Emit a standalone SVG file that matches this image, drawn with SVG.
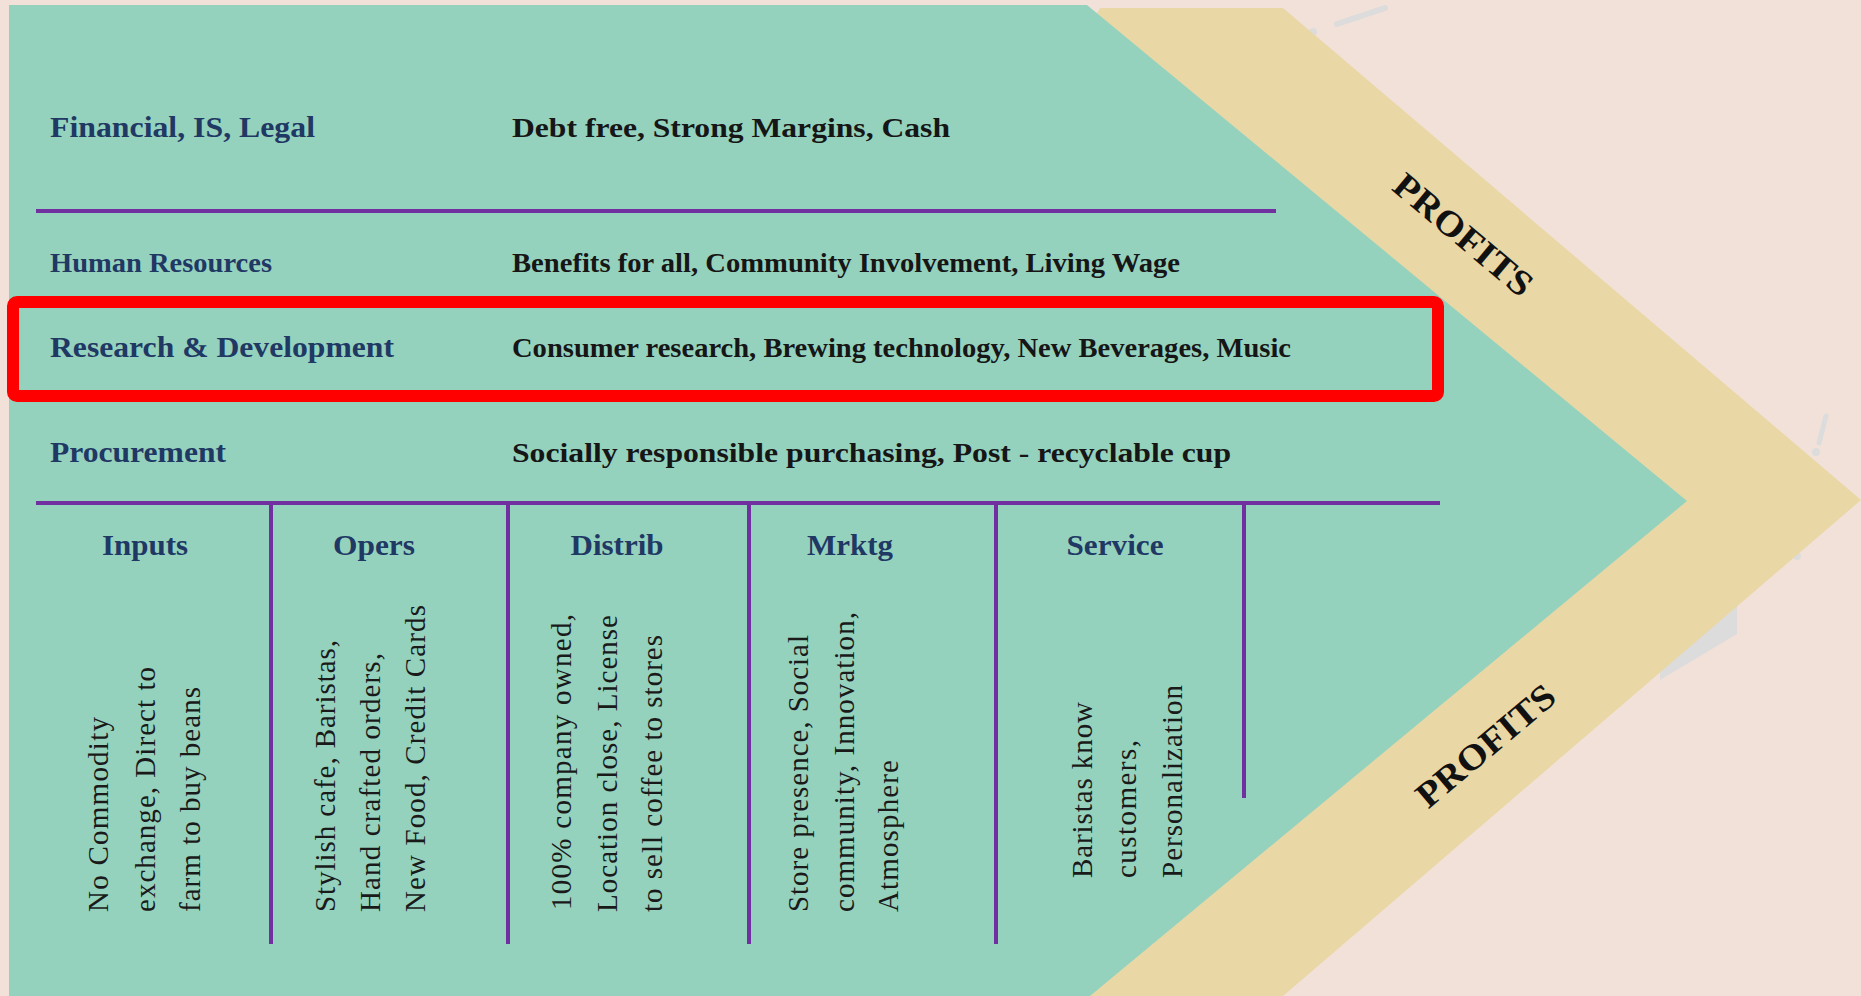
<svg xmlns="http://www.w3.org/2000/svg" width="1861" height="996" viewBox="0 0 1861 996">
<style>
.lbl{font-family:"Liberation Serif","Times New Roman",serif;font-weight:bold;fill:#1F3864;}
.desc{font-family:"Liberation Serif","Times New Roman",serif;font-weight:bold;fill:#161616;}
.rot{font-family:"Liberation Serif","Times New Roman",serif;font-size:29px;fill:#1a1a1a;}
.hdr{font-family:"Liberation Serif","Times New Roman",serif;font-weight:bold;font-size:30px;fill:#1F3864;text-anchor:middle;}
.prof{font-family:"Liberation Serif","Times New Roman",serif;font-weight:bold;font-size:36px;fill:#111;text-anchor:middle;}
.div{stroke:#7030A0;stroke-width:4;fill:none;}
.smudge{fill:#dcdcdc;}
</style>
<rect id="background" x="0" y="0" width="1861" height="996" fill="#F2E1D9"/>
<g id="smudges">
<line x1="1337" y1="24" x2="1385" y2="8" stroke="#dcdcdc" stroke-width="6" stroke-linecap="round"/>
<circle class="smudge" cx="1313" cy="32" r="4"/>
<line x1="1826" y1="416" x2="1819" y2="443" stroke="#dcdcdc" stroke-width="5" stroke-linecap="round"/>
<circle class="smudge" cx="1816" cy="452" r="4"/>
<polygon class="smudge" points="1737,605 1737,634 1660,680 1660,670"/>
<circle class="smudge" cx="1797" cy="556" r="4"/>
</g>
<g id="profit-band">
<polygon points="1100,8 1283,8 1861,500 1283,996 1000,996 1000,200" fill="#E9D7A5"/>
<text class="prof" transform="translate(1464,234) rotate(40)" y="13" textLength="170" lengthAdjust="spacingAndGlyphs">PROFITS</text>
<text class="prof" transform="translate(1485,745) rotate(-40)" y="13" textLength="170" lengthAdjust="spacingAndGlyphs">PROFITS</text>
</g>
<polygon id="value-chain" points="9,5 1087,5 1687,501 1090,996 9,996" fill="#95D2BE"/>
<g id="dividers">
<line class="div" x1="36" y1="211" x2="1276" y2="211"/>
<line class="div" x1="36" y1="503" x2="1440" y2="503"/>
<line class="div" x1="271" y1="503" x2="271" y2="944"/>
<line class="div" x1="508" y1="503" x2="508" y2="944"/>
<line class="div" x1="749" y1="503" x2="749" y2="944"/>
<line class="div" x1="996" y1="503" x2="996" y2="944"/>
<line class="div" x1="1244" y1="503" x2="1244" y2="798"/>
</g>
<g id="row-financial">
<text class="lbl" x="50" y="137" font-size="30" textLength="265" lengthAdjust="spacingAndGlyphs">Financial, IS, Legal</text>
<text class="desc" x="512" y="137" font-size="28" textLength="438" lengthAdjust="spacingAndGlyphs">Debt free, Strong Margins, Cash</text>
</g>
<g id="row-hr">
<text class="lbl" x="50" y="272" font-size="27" textLength="222" lengthAdjust="spacingAndGlyphs">Human Resources</text>
<text class="desc" x="512" y="272" font-size="27" textLength="668" lengthAdjust="spacingAndGlyphs">Benefits for all, Community Involvement, Living Wage</text>
</g>
<g id="row-rd">
<rect x="13" y="302" width="1425" height="94" rx="4" fill="none" stroke="#FF0000" stroke-width="12"/>
<text class="lbl" x="50" y="357" font-size="30" textLength="344" lengthAdjust="spacingAndGlyphs">Research &amp; Development</text>
<text class="desc" x="512" y="357" font-size="28" textLength="779" lengthAdjust="spacingAndGlyphs">Consumer research, Brewing technology, New Beverages, Music</text>
</g>
<g id="row-procurement">
<text class="lbl" x="50" y="462" font-size="30" textLength="176" lengthAdjust="spacingAndGlyphs">Procurement</text>
<text class="desc" x="512" y="462" font-size="28" textLength="719" lengthAdjust="spacingAndGlyphs">Socially responsible purchasing, Post - recyclable cup</text>
</g>
<g id="col-inputs">
<text class="hdr" x="145" y="555" textLength="86" lengthAdjust="spacingAndGlyphs">Inputs</text>
<text class="rot" transform="translate(108,912) rotate(-90)" textLength="195" lengthAdjust="spacing">No Commodity</text>
<text class="rot" transform="translate(155,912) rotate(-90)" textLength="245" lengthAdjust="spacing">exchange, Direct to</text>
<text class="rot" transform="translate(200,912) rotate(-90)" textLength="225" lengthAdjust="spacing">farm to buy beans</text>
</g>
<g id="col-opers">
<text class="hdr" x="374" y="555" textLength="82" lengthAdjust="spacingAndGlyphs">Opers</text>
<text class="rot" transform="translate(335,912) rotate(-90)" textLength="272" lengthAdjust="spacing">Stylish cafe, Baristas,</text>
<text class="rot" transform="translate(380,912) rotate(-90)" textLength="259" lengthAdjust="spacing">Hand crafted orders,</text>
<text class="rot" transform="translate(425,912) rotate(-90)" textLength="307" lengthAdjust="spacing">New Food, Credit Cards</text>
</g>
<g id="col-distrib">
<text class="hdr" x="617" y="555" textLength="93" lengthAdjust="spacingAndGlyphs">Distrib</text>
<text class="rot" transform="translate(571,910) rotate(-90)" textLength="296" lengthAdjust="spacing">100% company owned,</text>
<text class="rot" transform="translate(617,912) rotate(-90)" textLength="297" lengthAdjust="spacing">Location close, License</text>
<text class="rot" transform="translate(662,912) rotate(-90)" textLength="277" lengthAdjust="spacing">to sell coffee to stores</text>
</g>
<g id="col-mrktg">
<text class="hdr" x="850" y="555" textLength="86" lengthAdjust="spacingAndGlyphs">Mrktg</text>
<text class="rot" transform="translate(808,912) rotate(-90)" textLength="277" lengthAdjust="spacing">Store presence, Social</text>
<text class="rot" transform="translate(854,912) rotate(-90)" textLength="300" lengthAdjust="spacing">community, Innovation,</text>
<text class="rot" transform="translate(898,912) rotate(-90)" textLength="152" lengthAdjust="spacing">Atmosphere</text>
</g>
<g id="col-service">
<text class="hdr" x="1115" y="555" textLength="97" lengthAdjust="spacingAndGlyphs">Service</text>
<text class="rot" transform="translate(1092,878) rotate(-90)" textLength="176" lengthAdjust="spacing">Baristas know</text>
<text class="rot" transform="translate(1136,878) rotate(-90)" textLength="138" lengthAdjust="spacing">customers,</text>
<text class="rot" transform="translate(1182,878) rotate(-90)" textLength="193" lengthAdjust="spacing">Personalization</text>
</g>
</svg>
